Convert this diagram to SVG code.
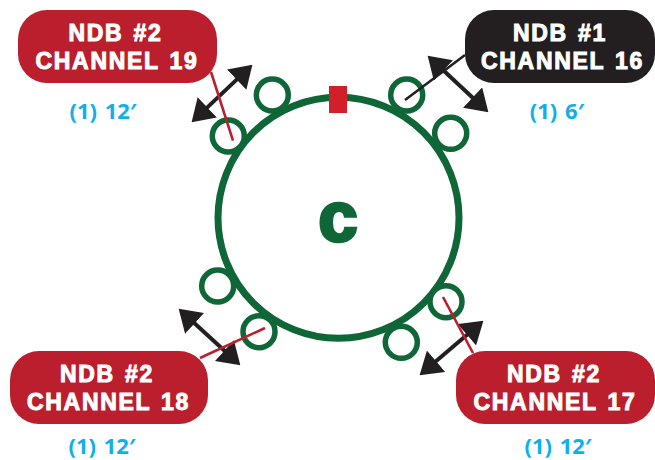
<svg xmlns="http://www.w3.org/2000/svg" width="655" height="460" viewBox="0 0 655 460">
<style>
.g{fill:#fff;stroke:#0f6636;stroke-width:5.5}
.box{stroke:none}
.r{fill:#bb1e2d}
.k{fill:#231f20}
.t{font-family:"Liberation Sans",Arial,sans-serif;font-weight:700;font-size:23px;fill:#fff;text-anchor:middle;stroke:#fff;stroke-width:1;letter-spacing:1.7px;word-spacing:2px}
.q{font-family:"Open Sans","Noto Sans",sans-serif;font-weight:700;font-size:22px;fill:#0fb0ea;text-anchor:middle;word-spacing:2px}
.cr{stroke:#bb1e2d;stroke-width:2.6;fill:none}
.ck{stroke:#231f20;stroke-width:2.6;fill:none}
.dim{stroke:#231f20;stroke-width:4;fill:none;marker-start:url(#a);marker-end:url(#a)}
</style>
<defs>
<marker id="a" markerUnits="userSpaceOnUse" markerWidth="22" markerHeight="28" refX="9" refY="13" orient="auto-start-reverse" viewBox="0 0 20 26"><path d="M0 0L20 13L0 26Z" fill="#231f20"/></marker>
</defs>
<g id="ring">
<circle cx="338.500" cy="217.800" r="120.500" fill="#fff" stroke="#0f6636" stroke-width="7"/>
<rect x="329" y="86" width="18" height="27" fill="#d1202a"/>
<text x="338" y="241" font-family="Liberation Sans,Arial,sans-serif" font-weight="700" font-size="70" fill="#0f6636" stroke="#0f6636" stroke-width="3.500" text-anchor="middle">c</text>
</g>
<g id="ports">
<circle class="g" cx="272.300" cy="95" r="16"/>
<circle class="g" cx="228.300" cy="136" r="16"/>
<circle class="g" cx="406.700" cy="95" r="16"/>
<circle class="g" cx="450.700" cy="133.300" r="16"/>
<circle class="g" cx="217.700" cy="286" r="16"/>
<circle class="g" cx="259" cy="331.700" r="16"/>
<circle class="g" cx="401.300" cy="342.300" r="16"/>
<circle class="g" cx="446" cy="301.700" r="16"/>
</g>
<g id="connectors">
<line class="dim" x1="200.200" y1="114.100" x2="243.800" y2="72.900"/>
<line class="dim" x1="436.300" y1="63.800" x2="479.700" y2="104.200"/>
<line class="dim" x1="187.400" y1="316.800" x2="231.600" y2="357.200"/>
<line class="dim" x1="428.600" y1="367.500" x2="474.400" y2="328.500"/>
<line class="cr" x1="211" y1="72" x2="233" y2="140.700"/>
<line class="ck" x1="465" y1="55" x2="405" y2="100"/>
<line class="cr" x1="200" y1="358" x2="265" y2="328"/>
<line class="cr" x1="443" y1="297" x2="473" y2="353"/>
</g>
<g id="ndb19">
<rect class="box r" x="18" y="10" width="199" height="73" rx="29"/>
<text class="t" x="115.500" y="40.700">NDB #2</text>
<text class="t" x="117" y="69.300">CHANNEL 19</text>
<text class="q" x="103" y="119">(1) 12′</text>
</g>
<g id="ndb16">
<rect class="box k" x="465" y="10" width="190" height="73" rx="29"/>
<text class="t" x="560" y="40.700">NDB #1</text>
<text class="t" x="562.500" y="69.300">CHANNEL 16</text>
<text class="q" x="557" y="119">(1) 6′</text>
</g>
<g id="ndb18">
<rect class="box r" x="10" y="351" width="198" height="73" rx="29"/>
<text class="t" x="107" y="382">NDB #2</text>
<text class="t" x="108.500" y="409.500">CHANNEL 18</text>
<text class="q" x="102" y="454">(1) 12′</text>
</g>
<g id="ndb17">
<rect class="box r" x="456" y="351" width="199" height="73" rx="29"/>
<text class="t" x="554" y="382">NDB #2</text>
<text class="t" x="555" y="409.500">CHANNEL 17</text>
<text class="q" x="558" y="454">(1) 12′</text>
</g>
</svg>
